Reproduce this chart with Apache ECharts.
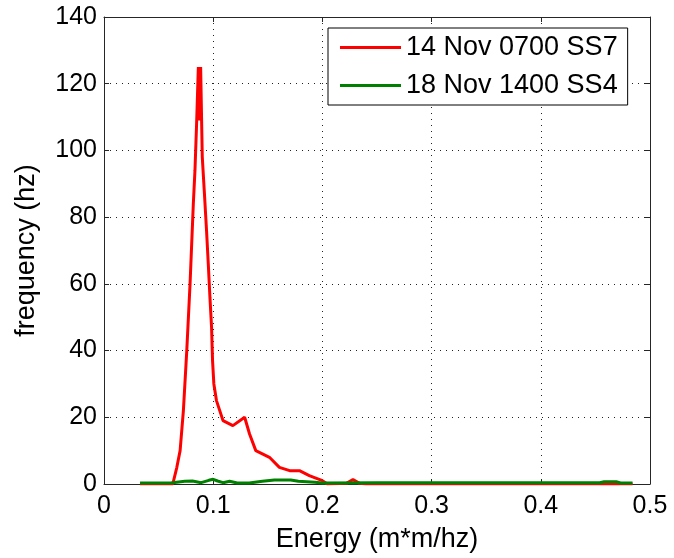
<!DOCTYPE html>
<html>
<head>
<meta charset="utf-8">
<script src="https://cdn.jsdelivr.net/npm/echarts@6/dist/echarts.min.js"></script>
<style>
  html, body { margin: 0; padding: 0; background: #fff; }
  #chart { width: 674px; height: 558px; }
</style>
</head>
<body>
<div id="chart"></div>
<script>
// values
const seriesNames = ['14 Nov 0700 SS7', '18 Nov 1400 SS4']

const energySS7 = [0.033, 0.063, 0.0667, 0.0697, 0.0727, 0.0758, 0.0788, 0.0803, 0.0818, 0.0833,
  0.0848, 0.0864, 0.0876, 0.0885, 0.090, 0.0918, 0.0939, 0.0955, 0.097, 0.0985, 0.0994, 0.1006,
  0.103, 0.106, 0.109, 0.118, 0.1288, 0.1333, 0.139, 0.1515, 0.1606, 0.170, 0.179, 0.188, 0.200,
  0.2045, 0.222, 0.228, 0.234, 0.240, 0.484]
const freqSS7 = [0, 0, 5, 10, 22, 40, 60, 72, 84, 94,
  108, 125, 109, 125, 98, 88, 76, 66, 56, 47, 37, 30,
  25, 22, 19, 17.5, 20, 15, 10, 8, 5, 4, 4, 2.5, 1,
  0, 0.2, 1.3, 0.2, 0, 0]

const energySS4 = [0.033, 0.061, 0.074, 0.081, 0.089, 0.096, 0.100, 0.104, 0.109, 0.115, 0.122,
  0.133, 0.145, 0.156, 0.171, 0.178, 0.193, 0.200, 0.250, 0.300, 0.350, 0.400, 0.454, 0.458,
  0.469, 0.473, 0.484]
const freqSS4 = [0.3, 0.3, 0.8, 0.9, 0.4, 1.1, 1.4, 0.9, 0.4, 0.8, 0.3,
  0.3, 0.8, 1.2, 1.2, 0.8, 0.5, 0.3, 0.4, 0.4, 0.4, 0.4, 0.4, 0.7,
  0.7, 0.3, 0.3]

const xTicks = [0, 0.1, 0.2, 0.3, 0.4, 0.5]
const yTicks = [0, 20, 40, 60, 80, 100, 120, 140]

const zip = (xs, ys) => xs.map((x, i) => [x, ys[i]])

const font = 'Liberation Sans, Arial, Helvetica, sans-serif'
const axisColor = '#262626'

const chart = echarts.init(document.getElementById('chart'))

const baseX = {
  type: 'value',
  min: xTicks[0],
  max: xTicks[xTicks.length - 1],
  interval: 0.1,
  axisLine: { show: true, onZero: false, lineStyle: { color: axisColor, width: 1 } },
  axisTick: { show: true, inside: true, length: 5, lineStyle: { color: axisColor } }
}
const baseY = {
  type: 'value',
  min: yTicks[0],
  max: yTicks[yTicks.length - 1],
  interval: 20,
  axisLine: { show: true, onZero: false, lineStyle: { color: axisColor, width: 1 } },
  axisTick: { show: true, inside: true, length: 5, lineStyle: { color: axisColor } }
}

chart.setOption({
  animation: false,
  backgroundColor: '#fff',
  grid: { left: 104, right: 24, top: 17, bottom: 74 },
  legend: {
    orient: 'vertical',
    left: 328,
    top: 28,
    width: 315,
    padding: [6, 10, 6, 12],
    itemGap: 11,
    itemWidth: 61,
    itemHeight: 3,
    icon: 'rect',
    backgroundColor: '#fff',
    borderColor: '#000',
    borderWidth: 1,
    textStyle: { fontFamily: font, fontSize: 27, color: '#000' },
    data: seriesNames
  },
  xAxis: [
    {
      ...baseX,
      position: 'bottom',
      name: 'Energy (m*m/hz)',
      nameLocation: 'middle',
      nameGap: 42,
      nameTextStyle: { fontFamily: font, fontSize: 27, color: '#000' },
      axisLabel: {
        fontFamily: font, fontSize: 25, color: '#000', margin: 10,
        formatter: v => (v === 0 ? '0' : v.toFixed(1))
      },
      splitLine: { show: true, lineStyle: { color: '#222', width: 1, type: [1, 5] } }
    },
    { ...baseX, position: 'top', axisLabel: { show: false }, splitLine: { show: false } }
  ],
  yAxis: [
    {
      ...baseY,
      position: 'left',
      name: 'frequency (hz)',
      nameLocation: 'middle',
      nameGap: 64,
      nameTextStyle: { fontFamily: font, fontSize: 27, color: '#000' },
      axisLabel: { fontFamily: font, fontSize: 25, color: '#000', margin: 7 },
      splitLine: { show: true, lineStyle: { color: '#222', width: 1, type: [1, 5] } }
    },
    { ...baseY, position: 'right', axisLabel: { show: false }, splitLine: { show: false } }
  ],
  series: [
    {
      name: seriesNames[0],
      type: 'line',
      xAxisIndex: 0,
      yAxisIndex: 0,
      showSymbol: false,
      symbol: 'none',
      color: '#ff0000',
      lineStyle: { color: '#ff0000', width: 3 },
      data: zip(energySS7, freqSS7)
    },
    {
      name: seriesNames[1],
      type: 'line',
      xAxisIndex: 0,
      yAxisIndex: 0,
      showSymbol: false,
      symbol: 'none',
      color: '#008000',
      lineStyle: { color: '#008000', width: 3 },
      data: zip(energySS4, freqSS4)
    }
  ]
})

window.addEventListener('resize', () => {
  chart.resize()
})
</script>
</body>
</html>
